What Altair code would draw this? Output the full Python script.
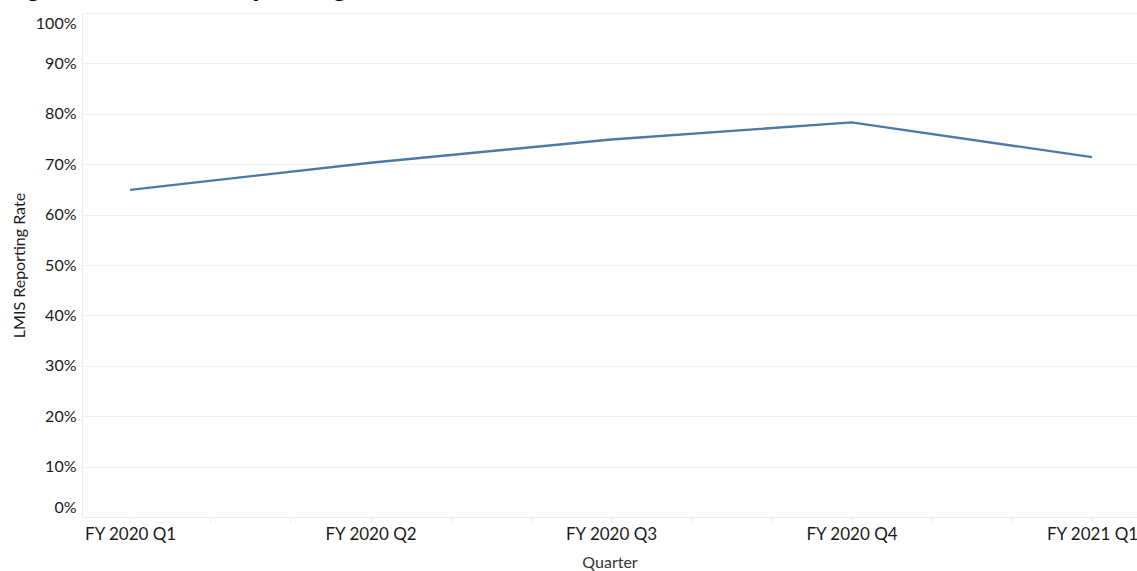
import altair as alt
import pandas as pd

# Quarterly LMIS reporting rate
quarters = ["FY 2020 Q1", "FY 2020 Q2", "FY 2020 Q3", "FY 2020 Q4", "FY 2021 Q1"]
rates = [0.649, 0.703, 0.749, 0.783, 0.714]
y_ticks = [i / 10 for i in range(11)]
heading = "Figure 10: LMIS Reporting Rate"

df = pd.DataFrame({"idx": list(range(len(quarters))), "quarter": quarters, "rate": rates})

# ticks every month (three per quarter), labels only on the quarters
tick_vals = [round(i / 3, 4) for i in range(0, 3 * (len(quarters) - 1) + 1)]
names_js = "[" + ",".join("'" + q + "'" for q in quarters) + "]"
label_expr = (
    f"abs(datum.value - round(datum.value)) < 0.01 ? {names_js}[round(datum.value)] : ''"
)

FONT = "Lato"

line = alt.Chart(df).mark_line(color="#4e79a7", strokeWidth=2.4).encode(
    x=alt.X(
        "idx:Q",
        scale=alt.Scale(domain=[-0.2, 4.187], nice=False, zero=False),
        axis=alt.Axis(
            values=tick_vals,
            labelExpr=label_expr,
            title="Quarter",
            grid=False,
            domainColor="#ececec",
            tickColor="#ececec",
            tickSize=5,
            labelFont=FONT,
            labelFontSize=17,
            labelColor="#1a1a1a",
            labelPadding=4,
            titleFont=FONT,
            titleFontSize=16,
            titleFontWeight="normal",
            titleColor="#333333",
            titlePadding=12,
        ),
    ),
    y=alt.Y(
        "rate:Q",
        scale=alt.Scale(domain=[0, 1], nice=False),
        axis=alt.Axis(
            values=y_ticks,
            format=".0%",
            title="LMIS Reporting Rate",
            grid=True,
            gridColor="#f0f0f0",
            domainColor="#ececec",
            ticks=False,
            labelFont=FONT,
            labelFontSize=16,
            labelColor="#1a1a1a",
            labelPadding=6,
            labelFlush=True,
            labelFlushOffset=-2,
            titleFont=FONT,
            titleFontSize=16,
            titleFontWeight="normal",
            titleColor="#1a1a1a",
            titlePadding=8,
        ),
    ),
)

# document heading above the plot, mostly outside the page
head = alt.Chart(pd.DataFrame({"t": [heading]})).mark_text(
    align="left",
    baseline="alphabetic",
    font="Liberation Sans",
    fontSize=28,
    fontWeight="bold",
    color="#000000",
).encode(text="t:N", x=alt.value(-82), y=alt.value(-18))

chart = (
    alt.layer(line, head)
    .properties(
        width=1055,
        height=504,
        autosize=alt.AutoSizeParams(type="none"),
        padding={"left": 82, "top": 13, "right": 0, "bottom": 54},
        background="white",
    )
    .configure_view(stroke=None)
)

chart.save("out.html", embed_options={"renderer": "svg", "actions": False})
